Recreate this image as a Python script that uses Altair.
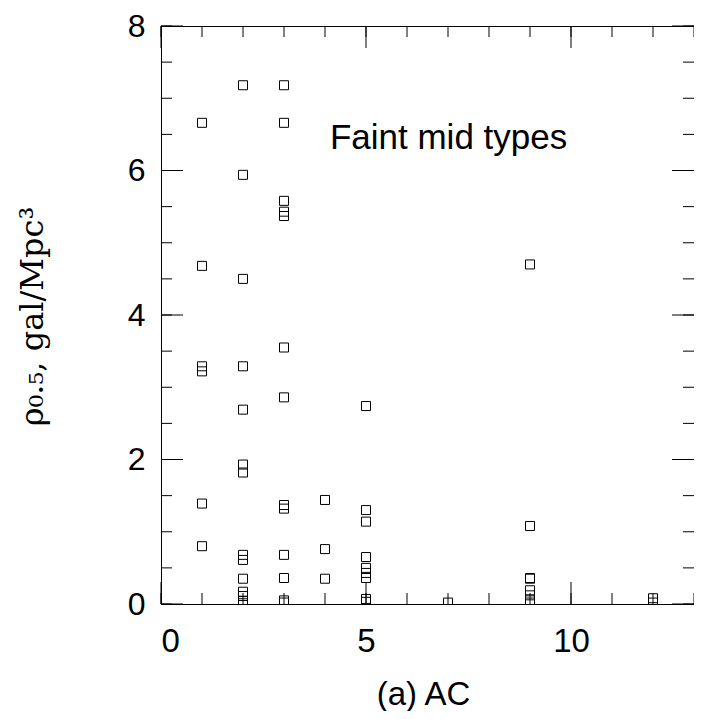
import altair as alt
import pandas as pd

# ---- data ----
ac_1 = [6.66, 4.68, 3.29, 3.22, 1.39, 0.80]
ac_2 = [7.18, 5.94, 4.50, 3.29, 2.69, 1.93, 1.82, 0.68, 0.61, 0.35, 0.17, 0.11, 0.04, 0.01]
ac_3 = [7.18, 6.66, 5.58, 5.43, 5.37, 3.55, 2.86, 1.37, 1.32, 0.68, 0.36, 0.05, 0.02]
ac_4 = [1.44, 0.76, 0.35]
ac_5 = [2.74, 1.30, 1.14, 0.65, 0.50, 0.43, 0.36, 0.07, 0.03]
ac_7 = [0.02]
ac_9 = [4.70, 1.08, 0.36, 0.35, 0.19, 0.12, 0.05, 0.02]
ac_12 = [0.08, 0.02]

series = {1: ac_1, 2: ac_2, 3: ac_3, 4: ac_4, 5: ac_5, 7: ac_7, 9: ac_9, 12: ac_12}

x_label_values = [0, 5, 10]
y_label_values = [0, 2, 4, 6, 8]
x_minor = list(range(0, 14))
x_major = [0, 5, 10]
y_minor = [i * 0.5 for i in range(0, 17)]
y_major = [0, 2, 4, 6, 8]

annot_text = ["Faint mid types"]
annot_x = [4.12]
annot_y = [6.30]

x_title = "(a) AC"
y_title = "ρ₀.₅,  gal/Mpc³"

# ---- tables ----
rows = [{"ac": k, "rho": v} for k, vals in series.items() for v in vals]
pts = pd.DataFrame(rows)
annot = pd.DataFrame({"t": annot_text, "x": annot_x, "y": annot_y})

W, H = 533, 578
MINOR, MAJOR = 11, 22

xs = alt.Scale(domain=[0, 13], nice=False, zero=False)
ys = alt.Scale(domain=[0, 8], nice=False, zero=False)

FONT = "Liberation Sans"

points = alt.Chart(pts).mark_point(
    shape="square", size=81, filled=False, stroke="black",
    strokeWidth=1, opacity=1, clip=True
).encode(
    x=alt.X("ac:Q", scale=xs,
            axis=alt.Axis(values=x_label_values, format="d", ticks=False,
                          tickSize=0, domain=False, grid=False,
                          labelFontSize=33, labelFont=FONT, labelPadding=21,
                          labelColor="black",
                          title=x_title, titleFont=FONT, titleFontSize=33,
                          titleFontWeight="normal", titleColor="black",
                          titleX=262, titleY=100, titleAlign="center",
                          titleBaseline="alphabetic")),
    y=alt.Y("rho:Q", scale=ys,
            axis=alt.Axis(values=y_label_values, format="d", ticks=False,
                          tickSize=0, domain=False, grid=False,
                          labelFontSize=32, labelFont=FONT, labelPadding=16,
                          labelColor="black",
                          title=y_title, titleFont="DejaVu Serif",
                          titleFontSize=32, titleFontWeight="normal",
                          titleColor="black", titleAngle=270,
                          titleX=-119, titleY=290, titleAlign="center",
                          titleBaseline="alphabetic")),
)

label = alt.Chart(annot).mark_text(
    font=FONT, fontSize=35, align="left", baseline="alphabetic", color="black"
).encode(x=alt.X("x:Q", scale=xs), y=alt.Y("y:Q", scale=ys), text="t:N")


def xticks(vals, length):
    df = pd.DataFrame({"v": vals})
    base = alt.Chart(df).mark_rule(color="black", strokeWidth=1)
    bottom = base.encode(x=alt.X("v:Q", scale=xs), y=alt.value(H), y2=alt.value(H - length))
    top = base.encode(x=alt.X("v:Q", scale=xs), y=alt.value(0), y2=alt.value(length))
    return [bottom, top]


def yticks(vals, length):
    df = pd.DataFrame({"v": vals})
    base = alt.Chart(df).mark_rule(color="black", strokeWidth=1)
    left = base.encode(y=alt.Y("v:Q", scale=ys), x=alt.value(0), x2=alt.value(length))
    right = base.encode(y=alt.Y("v:Q", scale=ys), x=alt.value(W), x2=alt.value(W - length))
    return [left, right]


tick_layers = (xticks(x_minor, MINOR) + xticks(x_major, MAJOR)
               + yticks(y_minor, MINOR) + yticks(y_major, MAJOR))

chart = alt.layer(points, label, *tick_layers).properties(
    width=W, height=H,
    autosize=alt.AutoSizeParams(type="none"),
    padding={"left": 153, "top": 18, "right": 0, "bottom": 107},
).configure_view(stroke="black", strokeWidth=1).configure_axis(
    labelColor="black"
)

chart.save("out.html", embed_options={"renderer": "svg", "actions": False})
